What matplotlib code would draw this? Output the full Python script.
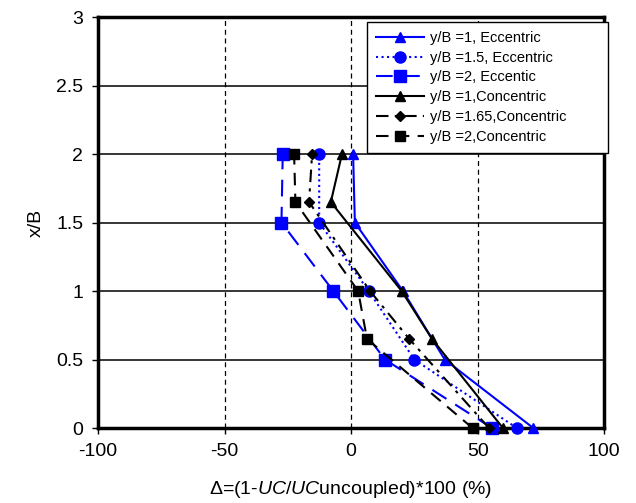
import numpy as np
import matplotlib.pyplot as plt

plt.rcParams['font.family'] = ['Liberation Sans', 'DejaVu Sans']
plt.rcParams['mathtext.fontset'] = 'custom'
plt.rcParams['mathtext.it'] = 'Liberation Sans:italic'
plt.rcParams['mathtext.rm'] = 'Liberation Sans'
plt.rcParams['axes.unicode_minus'] = False

# eccentric cases (x/B = 0, 0.5, 1, 1.5, 2)
ecc_xb = [0, 0.5, 1, 1.5, 2]
ecc_yb1 = [72, 37, 20.5, 1.5, 0.8]
ecc_yb15 = [65.5, 25, 7, -12.6, -12.6]
ecc_yb2 = [55.7, 13.4, -7, -27.5, -27]

# concentric cases (x/B = 0, 0.65, 1, 1.65, 2)
con_xb = [0, 0.65, 1, 1.65, 2]
con_yb1 = [60, 32, 20, -8, -3.6]
con_yb165 = [54.5, 23, 7.5, -16.6, -15.4]
con_yb2 = [48, 6.3, 2.8, -22, -22.5]

labels = ['y/B =1, Eccentric', 'y/B =1.5, Eccentric', 'y/B =2, Eccentic',
          'y/B =1,Concentric', 'y/B =1.65,Concentric', 'y/B =2,Concentric']

fig = plt.figure(figsize=(6.36, 5.03), dpi=100)
ax = fig.add_axes([0.154, 0.149, 0.796, 0.817])

blue = '#0000FF'
kw = dict(lw=1.5, clip_on=False, zorder=3)
ax.plot(ecc_yb1, ecc_xb, color=blue, ls='-', marker='^', ms=7, label=labels[0], **kw)
ax.plot(ecc_yb15, ecc_xb, color=blue, ls=':', marker='o', ms=8, label=labels[1], **kw)
ax.plot(ecc_yb2, ecc_xb, color=blue, ls=(0, (8, 5)), marker='s', ms=8, label=labels[2], **kw)
ax.plot(con_yb1, con_xb, color='black', ls='-', marker='^', ms=7, label=labels[3], **kw)
ax.plot(con_yb165, con_xb, color='black', ls=(0, (6, 3, 1.5, 3)), marker='D', ms=5.5, label=labels[4], **kw)
ax.plot(con_yb2, con_xb, color='black', ls=(0, (6, 4)), marker='s', ms=7.5, label=labels[5], **kw)

ax.set_xlim(-100, 100)
ax.set_ylim(0, 3)
ax.set_xticks(np.arange(-100, 101, 50))
ax.set_yticks(np.arange(0, 3.01, 0.5))
ax.set_yticklabels(['0', '0.5', '1', '1.5', '2', '2.5', '3'])
ax.tick_params(labelsize=14, direction='out', length=4.5, width=1, pad=6)

for yv in [0.5, 1, 1.5, 2, 2.5]:
    ax.axhline(yv, color='black', lw=1.1, zorder=0)
for xv in [-50, 0, 50]:
    ax.axvline(xv, color='black', lw=0.9, ls=(0, (4, 3)), zorder=0)

for sp in ax.spines.values():
    sp.set_linewidth(2.5)

ax.set_xlabel(r'Δ=($\mathit{1}$-$\mathit{UC/UC}$uncoupled)*100 (%)', fontsize=14, labelpad=14)
ax.set_ylabel('x/B', fontsize=14, labelpad=8)

leg = ax.legend(loc='upper left', bbox_to_anchor=(0.532, 0.988, 0.476, 0.0), mode='expand',
                fontsize=10.5, frameon=True, fancybox=False, edgecolor='black', framealpha=1,
                handlelength=3.3, labelspacing=0.4, borderpad=0.6, borderaxespad=0,
                handletextpad=0.4)
leg.get_frame().set_linewidth(1.0)
leg.set_zorder(5)

fig.savefig('out.png', dpi=100)
